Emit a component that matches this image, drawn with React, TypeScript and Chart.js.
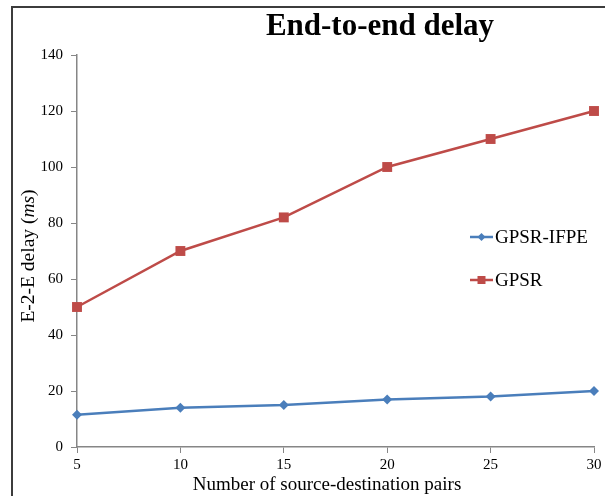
import React, { useEffect, useRef } from "react";
import { Chart, registerables } from "chart.js";
Chart.register(...registerables);

const pairs = [5, 10, 15, 20, 25, 30];
const gpsrIfpe = [11.5, 14, 15, 17, 18, 20];
const gpsr = [50, 70, 82, 100, 110, 120];
const seriesNames = ["GPSR-IFPE", "GPSR"];
const seriesColors = ["#4a7ebb", "#be4b48"];
const chartTitle = "End-to-end delay";
const xTitle = "Number of source-destination pairs";
const yTitleParts = [
  { text: "E-2-E delay (", italic: false },
  { text: "ms", italic: true },
  { text: ")", italic: false },
];

const SERIF = '"Liberation Serif", "Times New Roman", serif';

const decorPlugin = {
  id: "decor",
  afterDraw(chart: any) {
    const ctx = chart.ctx as CanvasRenderingContext2D;
    ctx.save();
    // frame
    ctx.strokeStyle = "#3c3c3c";
    ctx.lineWidth = 2;
    ctx.beginPath();
    ctx.moveTo(12, 496);
    ctx.lineTo(12, 7);
    ctx.lineTo(605, 7);
    ctx.stroke();

    // title
    ctx.fillStyle = "#000";
    ctx.font = `bold 31px ${SERIF}`;
    ctx.textAlign = "center";
    ctx.textBaseline = "middle";
    ctx.fillText(chartTitle, 380, 27);

    // x title
    ctx.font = `19px ${SERIF}`;
    ctx.fillText(xTitle, 327, 485);

    // y title
    ctx.save();
    ctx.translate(29, 256);
    ctx.rotate(-Math.PI / 2);
    ctx.textAlign = "left";
    let total = 0;
    for (const p of yTitleParts) {
      ctx.font = `${p.italic ? "italic " : ""}19.5px ${SERIF}`;
      total += ctx.measureText(p.text).width;
    }
    let x = -total / 2;
    for (const p of yTitleParts) {
      ctx.font = `${p.italic ? "italic " : ""}19.5px ${SERIF}`;
      ctx.fillText(p.text, x, 0);
      x += ctx.measureText(p.text).width;
    }
    ctx.restore();

    // legend
    const items = [
      { y: 237, style: "diamond" },
      { y: 280, style: "square" },
    ];
    items.forEach((it, i) => {
      const c = seriesColors[i];
      ctx.strokeStyle = c;
      ctx.fillStyle = c;
      ctx.lineWidth = 2.5;
      ctx.beginPath();
      ctx.moveTo(470, it.y);
      ctx.lineTo(493, it.y);
      ctx.stroke();
      const cx = 481.5;
      ctx.beginPath();
      if (it.style === "diamond") {
        ctx.moveTo(cx, it.y - 4);
        ctx.lineTo(cx + 4, it.y);
        ctx.lineTo(cx, it.y + 4);
        ctx.lineTo(cx - 4, it.y);
        ctx.closePath();
      } else {
        ctx.rect(cx - 4, it.y - 4, 8, 8);
      }
      ctx.fill();
      ctx.fillStyle = "#000";
      ctx.font = `19px ${SERIF}`;
      ctx.textAlign = "left";
      ctx.textBaseline = "middle";
      ctx.fillText(seriesNames[i], 495, it.y + 1);
    });
    ctx.restore();
  },
};

export default function App() {
  const ref = useRef<HTMLCanvasElement | null>(null);
  useEffect(() => {
    if (!ref.current) return;
    const chart = new Chart(ref.current, {
      type: "line",
      data: {
        datasets: [
          {
            label: seriesNames[0],
            data: pairs.map((p, i) => ({ x: p, y: gpsrIfpe[i] })),
            borderColor: seriesColors[0],
            backgroundColor: seriesColors[0],
            borderWidth: 2.5,
            pointStyle: "rectRot",
            pointRadius: 5,
            pointBorderWidth: 0,
            tension: 0,
            clip: false,
          },
          {
            label: seriesNames[1],
            data: pairs.map((p, i) => ({ x: p, y: gpsr[i] })),
            borderColor: seriesColors[1],
            backgroundColor: seriesColors[1],
            borderWidth: 2.5,
            pointStyle: "rect",
            pointRadius: 7,
            pointBorderWidth: 0,
            tension: 0,
            clip: false,
          },
        ],
      },
      options: {
        responsive: false,
        animation: false,
        devicePixelRatio: 1,
        layout: { padding: { left: 0, right: 11, top: 55, bottom: 0 } },
        plugins: {
          legend: { display: false },
          title: { display: false },
          tooltip: { enabled: false },
        },
        scales: {
          x: {
            type: "linear",
            min: 5,
            max: 30,
            afterFit: (s: any) => {
              s.height = 49;
            },
            ticks: {
              stepSize: 5,
              color: "#000",
              font: { family: SERIF, size: 15 },
              padding: 3,
              maxRotation: 0,
            },
            grid: {
              drawOnChartArea: false,
              drawTicks: true,
              tickLength: 6,
              color: "#868686",
            },
            border: { color: "#868686", width: 1.5 },
          },
          y: {
            min: 0,
            max: 140,
            afterFit: (s: any) => {
              s.width = 77;
            },
            ticks: {
              stepSize: 20,
              color: "#000",
              font: { family: SERIF, size: 15 },
              padding: 8,
            },
            grid: {
              drawOnChartArea: false,
              drawTicks: true,
              tickLength: 6,
              color: "#868686",
            },
            border: { color: "#868686", width: 1.5 },
          },
        },
      },
      plugins: [decorPlugin],
    });
    return () => chart.destroy();
  }, []);
  return (
    <div style={{ position: "fixed", left: 0, top: 0, width: 605, height: 496, background: "#fff" }}>
      <canvas ref={ref} width={605} height={496} />
    </div>
  );
}
